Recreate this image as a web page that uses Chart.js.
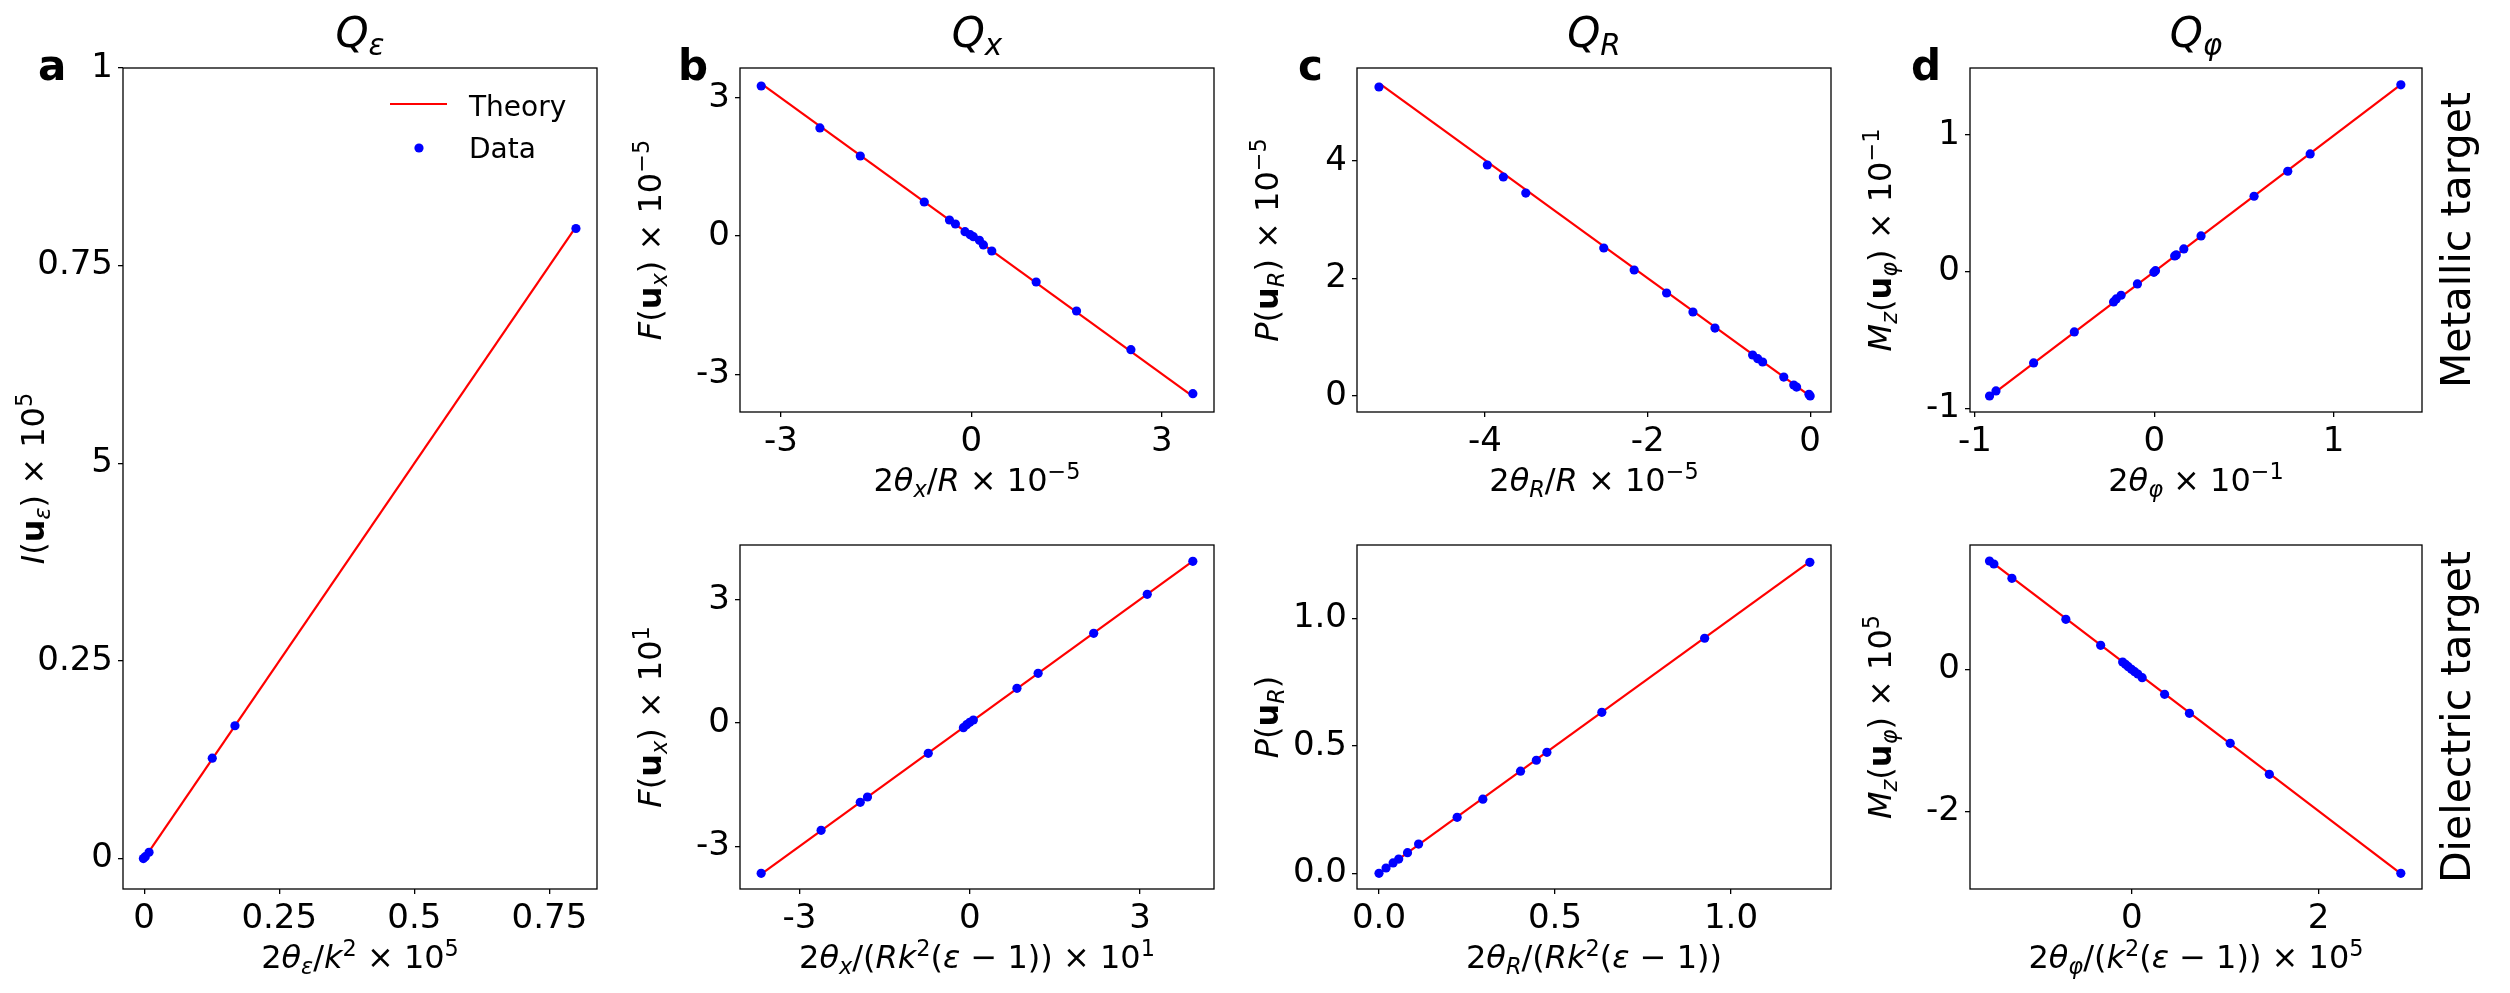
<!DOCTYPE html>
<html>
<head>
<meta charset="utf-8">
<script src="https://cdn.jsdelivr.net/npm/chart.js@4.4.1/dist/chart.umd.min.js"></script>
<style>
  body { margin: 0; background: #fff; width: 2510px; height: 993px; overflow: hidden; position: relative; }
  canvas { position: absolute; }
</style>
</head>
<body>
<canvas id="pa"></canvas>
<canvas id="pb1"></canvas>
<canvas id="pb2"></canvas>
<canvas id="pc1"></canvas>
<canvas id="pc2"></canvas>
<canvas id="pd1"></canvas>
<canvas id="pd2"></canvas>
<script>
// ---- data ----
// a: Q_eps
const aDataX = [-0.0015, 0.002, 0.009, 0.126, 0.168, 0.799];
const aDataY = [0.0, 0.0024, 0.008, 0.127, 0.168, 0.797];
const aLineX = [0, 0.799];
const aLineY = [0, 0.799];

// b: Q_x (metallic / dielectric)
const b1DataX = [-3.312, -2.387, -1.751, -0.743, -0.346, -0.252, -0.101, -0.019, 0.031, 0.126, 0.189, 0.321, 1.020, 1.656, 2.513, 3.489];
const b1DataY = [3.256, 2.345, 1.737, 0.738, 0.347, 0.260, 0.094, 0.029, -0.014, -0.094, -0.195, -0.326, -0.999, -1.628, -2.467, -3.423];
const b1LineX = [-3.312, 3.489];
const b1LineY = [3.31, -3.48];

const b2DataX = [-3.676, -2.620, -1.930, -1.803, -0.732, -0.113, -0.056, 0.0, 0.063, 0.831, 1.204, 2.183, 3.127, 3.930];
const b2DataY = [-3.661, -2.614, -1.932, -1.802, -0.739, -0.114, -0.041, 0.016, 0.073, 0.844, 1.209, 2.183, 3.133, 3.937];
const b2LineX = [-3.676, 3.930];
const b2LineY = [-3.68, 3.94];

// c: Q_R
const c1DataX = [-5.304, -3.971, -3.774, -3.498, -2.539, -2.165, -1.766, -1.442, -1.171, -0.708, -0.645, -0.585, -0.325, -0.202, -0.167, -0.015, 0];
const c1DataY = [5.260, 3.932, 3.728, 3.455, 2.519, 2.145, 1.753, 1.430, 1.157, 0.698, 0.635, 0.579, 0.323, 0.187, 0.153, 0.028, 0];
const c1LineX = [-5.30, 0];
const c1LineY = [5.32, 0];

const c2DataX = [0, 0.020, 0.040, 0.056, 0.081, 0.1125, 0.222, 0.295, 0.402, 0.447, 0.477, 0.633, 0.925, 1.224];
const c2DataY = [0, 0.021, 0.041, 0.056, 0.081, 0.115, 0.220, 0.291, 0.401, 0.444, 0.475, 0.632, 0.923, 1.221];
const c2LineX = [0, 1.224];
const c2LineY = [0, 1.224];

// d: Q_phi
const d1DataX = [-0.919, -0.883, -0.673, -0.446, -0.227, -0.212, -0.185, -0.094, -0.002, 0.007, 0.114, 0.123, 0.165, 0.261, 0.557, 0.745, 0.870, 1.376];
const d1DataY = [-0.911, -0.874, -0.669, -0.442, -0.222, -0.200, -0.173, -0.090, -0.005, 0.007, 0.115, 0.122, 0.166, 0.261, 0.552, 0.735, 0.862, 1.368];
const d1LineX = [-0.919, 1.376];
const d1LineY = [-0.915, 1.370];

const d2DataX = [-1.525, -1.478, -1.285, -0.707, -0.334, -0.0985, -0.0685, -0.0385, -0.004, 0.030, 0.064, 0.111, 0.351, 0.617, 1.054, 1.473, 2.882];
const d2DataY = [1.522, 1.480, 1.279, 0.703, 0.337, 0.103, 0.070, 0.037, 0, -0.033, -0.066, -0.117, -0.351, -0.618, -1.040, -1.475, -2.867];
const d2LineX = [-1.525, 2.882];
const d2LineY = [1.53, -2.87];

// ---- axis limits and ticks ----
const aXRange = [-0.0392, 0.838], aYRange = [-0.0385, 1.0];
const b1XRange = [-3.646, 3.822], b1YRange = [-3.821, 3.647];
const b2XRange = [-4.049, 4.303], b2YRange = [-4.042, 4.334];
const c1XRange = [-5.574, 0.256], c1YRange = [-0.272, 5.583];
const c2XRange = [-0.0625, 1.284], c2YRange = [-0.0615, 1.289];
const d1XRange = [-1.028, 1.494], d1YRange = [-1.028, 1.491];
const d2XRange = [-1.734, 3.109], d2YRange = [-3.087, 1.747];

const aXTicks = [0, 0.25, 0.5, 0.75], aXTickLabels = ['0', '0.25', '0.5', '0.75'];
const aYTicks = [0, 0.25, 0.5, 0.75, 1], aYTickLabels = ['0', '0.25', '5', '0.75', '1'];
const bTicks = [-3, 0, 3], bTickLabels = ['-3', '0', '3'];
const c1XTicks = [-4, -2, 0], c1XTickLabels = ['-4', '-2', '0'];
const c1YTicks = [0, 2, 4], c1YTickLabels = ['0', '2', '4'];
const c2Ticks = [0, 0.5, 1], c2TickLabels = ['0.0', '0.5', '1.0'];
const d1Ticks = [-1, 0, 1], d1TickLabels = ['-1', '0', '1'];
const d2XTicks = [0, 2], d2XTickLabels = ['0', '2'];
const d2YTicks = [-2, 0], d2YTickLabels = ['-2', '0'];

// ---- texts (segments: i italic, b bold, _ subscript, ^ superscript) ----
const tA = [['Q', 'i'], ['ε', 'i_']];
const tB = [['Q', 'i'], ['x', 'i_']];
const tC = [['Q', 'i'], ['R', 'i_']];
const tD = [['Q', 'i'], ['φ', 'i_']];
const xA = [['2', ''], ['θ', 'i'], ['ε', 'i_'], ['/', ''], ['k', 'i'], ['2', '^'], [' × 10', ''], ['5', '^']];
const yA = [['I', 'i'], ['(', ''], ['u', 'b'], ['ε', 'i_'], [')', ''], [' × 10', ''], ['5', '^']];
const xB1 = [['2', ''], ['θ', 'i'], ['x', 'i_'], ['/', ''], ['R', 'i'], [' × 10', ''], ['−5', '^']];
const yB1 = [['F', 'i'], ['(', ''], ['u', 'b'], ['x', 'i_'], [')', ''], [' × 10', ''], ['−5', '^']];
const xB2 = [['2', ''], ['θ', 'i'], ['x', 'i_'], ['/(', ''], ['R', 'i'], ['k', 'i'], ['2', '^'], ['(', ''], ['ε', 'i'], [' − 1))', ''], [' × 10', ''], ['1', '^']];
const yB2 = [['F', 'i'], ['(', ''], ['u', 'b'], ['x', 'i_'], [')', ''], [' × 10', ''], ['1', '^']];
const xC1 = [['2', ''], ['θ', 'i'], ['R', 'i_'], ['/', ''], ['R', 'i'], [' × 10', ''], ['−5', '^']];
const yC1 = [['P', 'i'], ['(', ''], ['u', 'b'], ['R', 'i_'], [')', ''], [' × 10', ''], ['−5', '^']];
const xC2 = [['2', ''], ['θ', 'i'], ['R', 'i_'], ['/(', ''], ['R', 'i'], ['k', 'i'], ['2', '^'], ['(', ''], ['ε', 'i'], [' − 1))', '']];
const yC2 = [['P', 'i'], ['(', ''], ['u', 'b'], ['R', 'i_'], [')', '']];
const xD1 = [['2', ''], ['θ', 'i'], ['φ', 'i_'], [' × 10', ''], ['−1', '^']];
const yD1 = [['M', 'i'], ['z', 'i_'], ['(', ''], ['u', 'b'], ['φ', 'i_'], [')', ''], [' × 10', ''], ['−1', '^']];
const xD2 = [['2', ''], ['θ', 'i'], ['φ', 'i_'], ['/(', ''], ['k', 'i'], ['2', '^'], ['(', ''], ['ε', 'i'], [' − 1))', ''], [' × 10', ''], ['5', '^']];
const yD2 = [['M', 'i'], ['z', 'i_'], ['(', ''], ['u', 'b'], ['φ', 'i_'], [')', ''], [' × 10', ''], ['5', '^']];

const FONT = '"DejaVu Sans"';
Chart.defaults.font.family = FONT + ', sans-serif';
Chart.defaults.color = '#000';

// draws a mathtext-like label centred on (x, y)
function drawRich(ctx, segs, x, y, size, angle) {
  ctx.save();
  ctx.translate(x, y);
  ctx.rotate(angle || 0);
  ctx.textAlign = 'left';
  ctx.textBaseline = 'alphabetic';
  const parts = segs.map(([t, st]) => {
    const small = st.includes('_') || st.includes('^');
    const fs = small ? size * 0.7 : size;
    const font = (st.includes('i') ? 'italic ' : '') + (st.includes('b') ? 'bold ' : '') + fs + 'px ' + FONT;
    ctx.font = font;
    const dy = st.includes('_') ? size * 0.2 : st.includes('^') ? -size * 0.37 : 0;
    return { t, font, dy, w: ctx.measureText(t).width };
  });
  let cx = -parts.reduce((s, p) => s + p.w, 0) / 2;
  parts.forEach(p => { ctx.font = p.font; ctx.fillText(p.t, cx, p.dy); cx += p.w; });
  ctx.restore();
}

const decor = {
  id: 'decor',
  afterDraw(chart, args, o) {
    const ctx = chart.ctx, ca = chart.chartArea;
    ctx.save();
    ctx.strokeStyle = '#000';
    ctx.lineWidth = 1.3;
    ctx.strokeRect(ca.left, ca.top, ca.right - ca.left, ca.bottom - ca.top);
    ctx.fillStyle = '#000';
    const cx = (ca.left + ca.right) / 2, cy = (ca.top + ca.bottom) / 2;
    if (o.title) drawRich(ctx, o.title, cx, ca.top - 21, 42, 0);
    drawRich(ctx, o.xTitle, cx, ca.bottom + 79, 32, 0);
    drawRich(ctx, o.yTitle, ca.left - 79, cy, 32, -Math.PI / 2);
    if (o.letter) {
      ctx.font = 'bold 42px ' + FONT;
      ctx.textAlign = 'left';
      ctx.textBaseline = 'alphabetic';
      ctx.fillText(o.letter, ca.left - o.letterDx, ca.top + 12);
    }
    if (o.row) {
      ctx.translate(ca.right + 48, cy);
      ctx.rotate(-Math.PI / 2);
      ctx.font = '41px ' + FONT;
      ctx.textAlign = 'center';
      ctx.textBaseline = 'alphabetic';
      ctx.fillText(o.row, 0, 0);
      ctx.setTransform(1, 0, 0, 1, 0, 0);
    }
    if (o.legend) {
      const ds = chart.data.datasets;
      const line = ds[1], dots = ds[0];
      ctx.strokeStyle = line.borderColor;
      ctx.lineWidth = 2.2;
      ctx.beginPath();
      ctx.moveTo(ca.left + 267, ca.top + 36);
      ctx.lineTo(ca.left + 324, ca.top + 36);
      ctx.stroke();
      ctx.fillStyle = dots.backgroundColor;
      ctx.beginPath();
      ctx.arc(ca.left + 296, ca.top + 80, 4.6, 0, Math.PI * 2);
      ctx.fill();
      ctx.fillStyle = '#000';
      ctx.font = '28px ' + FONT;
      ctx.textAlign = 'left';
      ctx.textBaseline = 'alphabetic';
      ctx.fillText(line.label, ca.left + 346, ca.top + 48);
      ctx.fillText(dots.label, ca.left + 346, ca.top + 90);
    }
    ctx.restore();
  }
};

const pts = (xs, ys) => xs.map((x, i) => ({ x, y: ys[i] }));

function axis(range, ticks, labels, isX) {
  return {
    type: 'linear',
    min: range[0],
    max: range[1],
    afterBuildTicks: ax => { ax.ticks = ticks.map(v => ({ value: v })); },
    afterFit: s => { if (isX) s.height = 55; else s.width = 95; },
    ticks: { callback: (v, i) => labels[i], font: { size: 34 }, color: '#000', padding: 5, maxRotation: 0, autoSkip: false },
    grid: { drawOnChartArea: false, drawTicks: true, tickLength: 5, color: '#000', lineWidth: 1.3 },
    border: { display: false }
  };
}

function makePanel(p) {
  const [L, T, R, B] = p.box;
  const padL = 122, padT = 68, padR = 80, padB = 100;
  const cv = document.getElementById(p.id);
  cv.width = R - L + padL + padR;
  cv.height = B - T + padT + padB;
  cv.style.left = (L - padL) + 'px';
  cv.style.top = (T - padT) + 'px';
  new Chart(cv, {
    type: 'scatter',
    data: {
      datasets: [
        { label: 'Data', data: pts(p.dx, p.dy), pointRadius: 4.6, pointHoverRadius: 4.6, backgroundColor: '#0000ff', borderWidth: 0, order: 0 },
        { label: 'Theory', data: pts(p.lx, p.ly), showLine: true, borderColor: '#ff0000', borderWidth: 2.2, pointRadius: 0, order: 1 }
      ]
    },
    options: {
      responsive: false,
      animation: false,
      devicePixelRatio: 1,
      events: [],
      layout: { padding: { left: padL - 95, top: padT, right: padR, bottom: padB - 55 } },
      plugins: {
        legend: { display: false },
        tooltip: { enabled: false },
        decor: { title: p.title, xTitle: p.xTitle, yTitle: p.yTitle, letter: p.letter, letterDx: p.letterDx, row: p.row, legend: p.legend }
      },
      scales: {
        x: axis(p.xr, p.xt, p.xl, true),
        y: axis(p.yr, p.yt, p.yl, false)
      }
    },
    plugins: [decor]
  });
}

makePanel({ id: 'pa', box: [123, 68, 597, 889], dx: aDataX, dy: aDataY, lx: aLineX, ly: aLineY,
  xr: aXRange, yr: aYRange, xt: aXTicks, xl: aXTickLabels, yt: aYTicks, yl: aYTickLabels,
  title: tA, xTitle: xA, yTitle: yA, letter: 'a', letterDx: 85, legend: true });
makePanel({ id: 'pb1', box: [740, 68, 1214, 412], dx: b1DataX, dy: b1DataY, lx: b1LineX, ly: b1LineY,
  xr: b1XRange, yr: b1YRange, xt: bTicks, xl: bTickLabels, yt: bTicks, yl: bTickLabels,
  title: tB, xTitle: xB1, yTitle: yB1, letter: 'b', letterDx: 62 });
makePanel({ id: 'pb2', box: [740, 545, 1214, 889], dx: b2DataX, dy: b2DataY, lx: b2LineX, ly: b2LineY,
  xr: b2XRange, yr: b2YRange, xt: bTicks, xl: bTickLabels, yt: bTicks, yl: bTickLabels,
  xTitle: xB2, yTitle: yB2 });
makePanel({ id: 'pc1', box: [1357, 68, 1831, 412], dx: c1DataX, dy: c1DataY, lx: c1LineX, ly: c1LineY,
  xr: c1XRange, yr: c1YRange, xt: c1XTicks, xl: c1XTickLabels, yt: c1YTicks, yl: c1YTickLabels,
  title: tC, xTitle: xC1, yTitle: yC1, letter: 'c', letterDx: 59 });
makePanel({ id: 'pc2', box: [1357, 545, 1831, 889], dx: c2DataX, dy: c2DataY, lx: c2LineX, ly: c2LineY,
  xr: c2XRange, yr: c2YRange, xt: c2Ticks, xl: c2TickLabels, yt: c2Ticks, yl: c2TickLabels,
  xTitle: xC2, yTitle: yC2 });
makePanel({ id: 'pd1', box: [1970, 68, 2422, 412], dx: d1DataX, dy: d1DataY, lx: d1LineX, ly: d1LineY,
  xr: d1XRange, yr: d1YRange, xt: d1Ticks, xl: d1TickLabels, yt: d1Ticks, yl: d1TickLabels,
  title: tD, xTitle: xD1, yTitle: yD1, letter: 'd', letterDx: 59, row: 'Metallic target' });
makePanel({ id: 'pd2', box: [1970, 545, 2422, 889], dx: d2DataX, dy: d2DataY, lx: d2LineX, ly: d2LineY,
  xr: d2XRange, yr: d2YRange, xt: d2XTicks, xl: d2XTickLabels, yt: d2YTicks, yl: d2YTickLabels,
  xTitle: xD2, yTitle: yD2, row: 'Dielectric target' });
</script>
</body>
</html>
